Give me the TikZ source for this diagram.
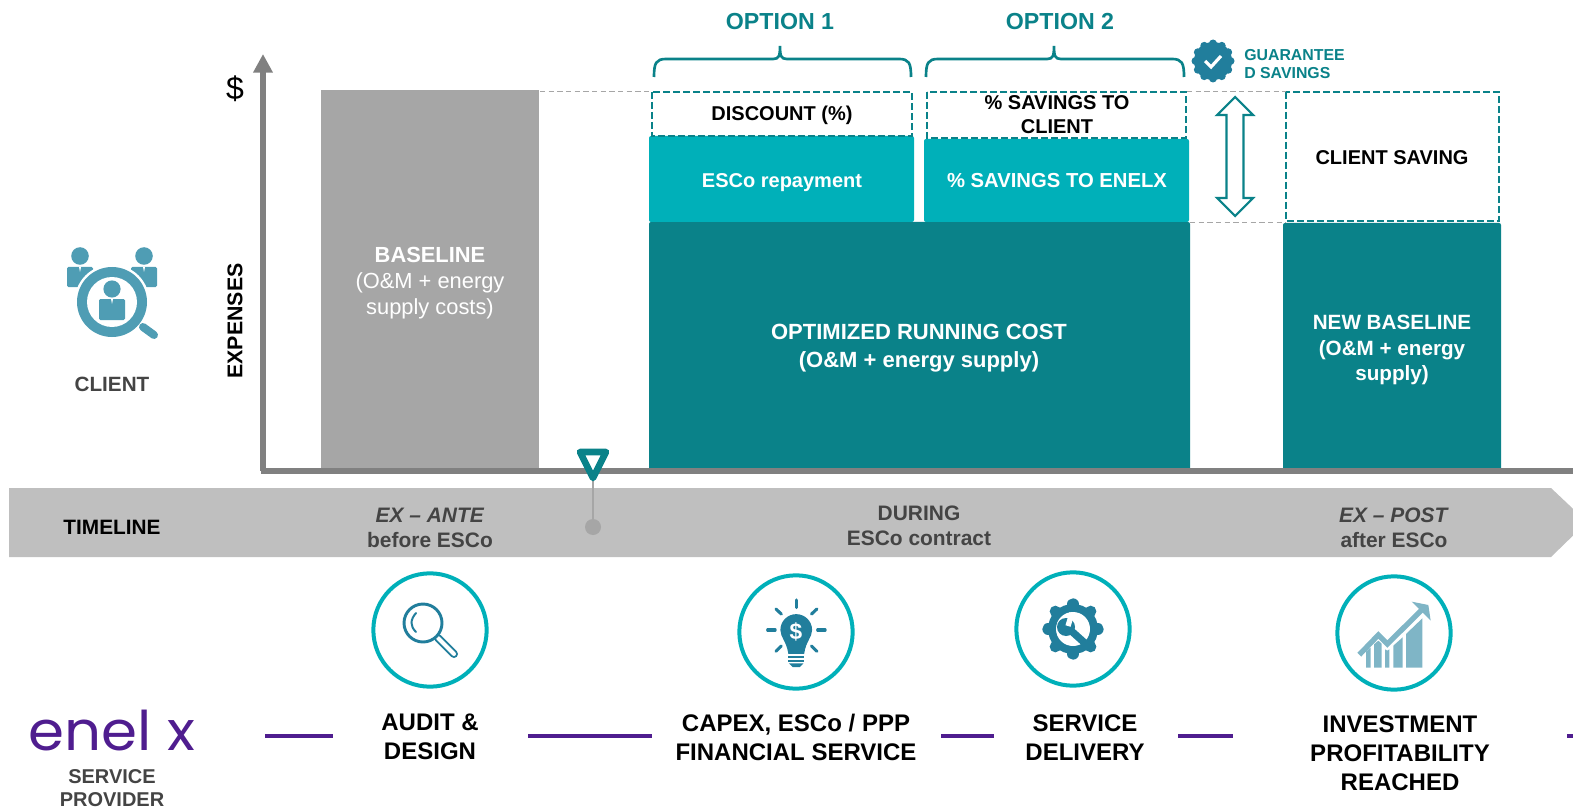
\documentclass[tikz,border=0pt]{standalone}
\usepackage{fontspec}
\setmainfont{Liberation Sans}
\newfontfamily\logofont{Poppins}
\usetikzlibrary{arrows.meta}

\definecolor{tealdark}{HTML}{0A8289}
\definecolor{teallight}{HTML}{00B0B9}
\definecolor{iconblue}{HTML}{217E9C}
\definecolor{iconpale}{HTML}{7FB5C6}
\definecolor{iconclient}{HTML}{4F9DB4}
\definecolor{axisgrey}{HTML}{808080}
\definecolor{barbgrey}{HTML}{A6A6A6}
\definecolor{bandgrey}{HTML}{BFBFBF}
\definecolor{textgrey}{HTML}{444444}
\definecolor{enelpurple}{HTML}{4F1D8F}

\tikzset{
  lbl/.style={align=center,inner sep=0pt,font=\fontsize{15.5}{20}\selectfont\bfseries},
  biglbl/.style={align=center,inner sep=0pt,font=\fontsize{18}{21.8}\selectfont\bfseries},
  bandlbl/.style={lbl,text=textgrey,font=\fontsize{15.7}{18.8}\selectfont\bfseries},
  dashbox/.style={draw=tealdark,line width=2pt,dash pattern=on 5pt off 2.5pt},
  guide/.style={draw=barbgrey,line width=0.7pt,dash pattern=on 4pt off 2.5pt},
  ring/.style={circle,draw=teallight,line width=3pt,minimum size=85pt,inner sep=0pt},
  provline/.style={draw=enelpurple,line width=3.5pt},
  optbrace/.style={draw=tealdark,line width=2pt},
}

\begin{document}
\begin{tikzpicture}[x=0.75pt,y=-0.75pt]
\useasboundingbox (0,0) rectangle (1573,809);

% bars
\fill[barbgrey] (321,90) rectangle (539,470);
\fill[tealdark,rounded corners=1.5pt] (649,222) rectangle (1190,470);
\fill[teallight,rounded corners=1.5pt] (649,136) rectangle (914,222);
\fill[teallight,rounded corners=1.5pt] (924,139) rectangle (1189,222);
\fill[tealdark,rounded corners=1.5pt] (1283,223) rectangle (1501,470);

\coordinate (g1) at (540,91);
\coordinate (g2) at (651,91);
\coordinate (g3) at (1187,91);
\coordinate (g4) at (1286,91);
\coordinate (g5) at (1190,222);
\coordinate (g6) at (1286,222);
\draw[guide] (g1) -- (g2);
\draw[guide] (g3) -- (g4);
\draw[guide] (g5) -- (g6);

\draw[dashbox] (652,92) rectangle (912,136);
\draw[dashbox] (927,92) rectangle (1186,138);
\draw[dashbox] (1286,92) rectangle (1499,221);

% axes
\coordinate (o) at (263,471);
\coordinate (ytop) at (263,54);
\coordinate (xend) at (1573,471);
\draw[axisgrey,line width=4pt,-{Triangle[length=14pt,width=14pt]}] (o) -- (ytop);
\draw[axisgrey,line width=4pt] (261,471) -- (xend);

\node[inner sep=0pt,font=\fontsize{24}{24}\selectfont,text=black] (dollar) at (235,89) {\$};
\node[lbl,rotate=90,font=\fontsize{16}{20}\selectfont\bfseries] (expenses) at (235,321) {EXPENSES};

% timeline
\fill[bandgrey] (9,488) -- (1551,488) -- (1587,522) -- (1551,557) -- (9,557) -- cycle;
\coordinate (tri) at (593,470);
\node[circle,fill=barbgrey,inner sep=0pt,minimum size=12pt] (dot) at (593,527) {};
\draw[barbgrey,line width=1.5pt] (tri) -- (dot);
\draw[tealdark,line width=5pt,line join=round,fill=white] (580,452) -- (606,452) -- (593,478) -- cycle;

\node[lbl,font=\fontsize{15.6}{20}\selectfont\bfseries] (timeline) at (112,527) {TIMELINE};
\node[bandlbl] (exante) at (430,528) {\textit{EX -- ANTE}\\before ESCo};
\node[bandlbl] (during) at (919,526) {DURING\\ESCo contract};
\node[bandlbl] (expost) at (1394,528) {\textit{EX -- POST}\\after ESCo};

% bar labels
\node[lbl,text=white,font=\fontsize{16.4}{20}\selectfont\bfseries] (baseline) at (430,255) {BASELINE};
\node[lbl,text=white,font=\fontsize{16.4}{20}\selectfont] (baselinesub) at (430,296) {(O\&M + energy\\supply costs)};
\node[lbl,font=\fontsize{15}{18}\selectfont\bfseries] (discount) at (782,115) {DISCOUNT (\%)};
\node[lbl,font=\fontsize{15}{18}\selectfont\bfseries] (savclient) at (1057,115) {\% SAVINGS TO\\CLIENT};
\node[lbl,text=white,font=\fontsize{15}{18}\selectfont\bfseries] (repay) at (782,183) {ESCo repayment};
\node[lbl,text=white,font=\fontsize{15.2}{18}\selectfont\bfseries] (savenelx) at (1057,181) {\% SAVINGS TO ENELX};
\node[lbl,text=white,font=\fontsize{16.5}{21}\selectfont\bfseries] (optimized) at (919,348) {OPTIMIZED RUNNING COST\\(O\&M + energy supply)};
\node[lbl,font=\fontsize{15}{18}\selectfont\bfseries] (clientsav) at (1392,158) {CLIENT SAVING};
\node[lbl,text=white,font=\fontsize{15.5}{19}\selectfont\bfseries] (newbase) at (1392,350) {NEW BASELINE\\(O\&M + energy\\supply)};

% options
\node[lbl,text=tealdark,font=\fontsize{17.4}{20}\selectfont\bfseries] (opt1) at (780,22) {OPTION 1};
\node[lbl,text=tealdark,font=\fontsize{17.4}{20}\selectfont\bfseries] (opt2) at (1060,22) {OPTION 2};
\draw[optbrace] (654,77) .. controls (654,63) and (656,59) .. (666,59) -- (773,59) .. controls (779,59) and (780,56) .. (780,46) .. controls (780,56) and (781,59) .. (787,59) -- (899,59) .. controls (909,59) and (911,63) .. (911,77);
\draw[optbrace] (926,77) .. controls (926,63) and (928,59) .. (938,59) -- (1047,59) .. controls (1053,59) and (1054,56) .. (1054,46) .. controls (1054,56) and (1055,59) .. (1061,59) -- (1172,59) .. controls (1182,59) and (1184,63) .. (1184,77);

% saving arrow
\draw[tealdark,line width=1.6pt,fill=white] (1235,97) -- (1253,115) -- (1243.5,115) -- (1243.5,198) -- (1253,198) -- (1235,216) -- (1217,198) -- (1226.5,198) -- (1226.5,115) -- (1217,115) -- cycle;

% guarantee badge
\fill[iconblue] (1213,61) circle (19);
\foreach \a in {0,30,...,330}
  \fill[iconblue] (1213,61) ++(\a:17.5) circle (4);
\draw[white,line width=2.4pt] (1205,61) -- (1211,67) -- (1221,56);
\node[lbl,text=tealdark,align=left,font=\fontsize{11.9}{14}\selectfont\bfseries,anchor=west] (guar) at (1244,64) {GUARANTEE\\D SAVINGS};

% client icon
\foreach \x in {80,144} {
  \fill[iconclient] (\x,256) circle (8.8);
  \fill[iconclient,rounded corners=1pt] (\x-13,267) rectangle (\x+13,287);
  \fill[white] (\x-1,267) -- (\x+1,267) -- (\x,272) -- cycle;
}
\fill[white] (112,302) circle (37.5);
\fill[iconclient] (112,302) circle (35);
\fill[white] (112,302) circle (25);
\draw[iconclient,line width=6pt,line cap=round] (143,327) -- (154,335);
\fill[iconclient] (112,289) circle (8.6);
\fill[iconclient,rounded corners=1pt] (99,299) rectangle (125,320);
\fill[white] (111,299) -- (113,299) -- (112,304) -- cycle;
\node[lbl,text=textgrey] (client) at (112,384) {CLIENT};

% rings
\node[ring] (ring1) at (430,630) {};
\node[ring] (ring2) at (796,632) {};
\node[ring] (ring3) at (1073,629) {};
\node[ring] (ring4) at (1394,633) {};

% lens icon
\draw[iconblue,line width=6pt,line cap=round] (438,638) -- (454,654);
\draw[white,line width=3pt,line cap=round] (438,638) -- (454,654);
\draw[iconblue,line width=2.2pt,fill=white] (423,623) circle (19);
\draw[iconblue,line width=1.5pt,line cap=round] (416,613) .. controls (410,620) and (410,626) .. (416,632);

% bulb icon
\begin{scope}[shift={(339,560)},scale=1/2.9]
\fill[iconblue] (1326,157) .. controls (1300,157) and (1280,178) .. (1280,203) .. controls (1280,225) and (1298,235) .. (1303,272) -- (1349,272) .. controls (1354,235) and (1372,225) .. (1372,203) .. controls (1372,178) and (1352,157) .. (1326,157) -- cycle;
\fill[iconblue] (1303,277) rectangle (1349,284);
\fill[iconblue] (1303,289) rectangle (1349,296);
\fill[iconblue] (1305,300) -- (1347,300) -- (1336,311) -- (1316,311) -- cycle;
\draw[iconblue,line width=2.3pt,line cap=round] (1326,116) -- (1326,138);
\draw[iconblue,line width=2.3pt,line cap=round] (1267,142) -- (1283,157);
\draw[iconblue,line width=2.3pt,line cap=round] (1386,142) -- (1370,157);
\draw[iconblue,line width=2.3pt,line cap=round] (1243,203) -- (1265,203);
\draw[iconblue,line width=2.3pt,line cap=round] (1388,203) -- (1410,203);
\draw[iconblue,line width=2.3pt,line cap=round] (1267,265) -- (1283,249);
\draw[iconblue,line width=2.3pt,line cap=round] (1386,265) -- (1370,249);
\end{scope}
\node[inner sep=0pt,text=white,font=\fontsize{17}{17}\selectfont\bfseries] (bulbdollar) at (796,632) {\$};

% gear icon
\foreach \a in {0,45,...,315}
  \draw[iconblue,line width=8.5pt,line cap=round] (1073,629) ++(\a:18) -- ++(\a:7);
\fill[iconblue] (1073,629) circle (25);
\fill[white] (1073,629) circle (17);
\fill[iconblue] (1066,627) circle (9);
\draw[iconblue,line width=5.5pt] (1068,628) -- (1087,645);
\draw[white,line width=4pt] (1068,626) -- (1072,613);

% chart icon
\begin{scope}[shift={(990,560)},scale=1/3]
\fill[iconpale] (1128,275) -- (1142,262) -- (1142,323) -- (1128,323) -- cycle;
\fill[iconpale] (1152,253) -- (1165,242) -- (1175,251) -- (1175,323) -- (1152,323) -- cycle;
\fill[iconpale] (1185,268) -- (1192,272) -- (1198,268) -- (1198,323) -- (1185,323) -- cycle;
\fill[iconpale] (1210,257) -- (1238,232) -- (1238,323) -- (1210,323) -- cycle;
\fill[iconpale] (1248,222) -- (1297,175) -- (1297,323) -- (1248,323) -- cycle;
\draw[iconpale,line width=4pt] (1108,284) -- (1165,225) -- (1192,252) -- (1295,150);
\fill[iconpale] (1265,125) -- (1315,135) -- (1322,182) -- cycle;
\end{scope}

% provider row
\node[inner sep=0pt,text=enelpurple,xscale=1.06,font=\fontsize{41}{41}\selectfont\logofont] (logo) at (112,731) {enel x};
\node[lbl,text=textgrey,font=\fontsize{15}{17.3}\selectfont\bfseries] (provider) at (112,788) {SERVICE\\PROVIDER};
\node[biglbl] (audit) at (430,737) {AUDIT \&\\DESIGN};
\node[biglbl] (capex) at (796,737) {CAPEX, ESCo / PPP\\FINANCIAL SERVICE};
\node[biglbl] (delivery) at (1085,738) {SERVICE\\DELIVERY};
\node[biglbl] (invest) at (1400,753) {INVESTMENT\\PROFITABILITY\\REACHED};

\coordinate (p1) at (265,736);
\coordinate (p2) at (333,736);
\coordinate (p3) at (528,736);
\coordinate (p4) at (652,736);
\coordinate (p5) at (941,736);
\coordinate (p6) at (994,736);
\coordinate (p7) at (1178,736);
\coordinate (p8) at (1233,736);
\coordinate (p9) at (1567,736);
\coordinate (p10) at (1573,736);
\draw[provline] (p1) -- (p2);
\draw[provline] (p3) -- (p4);
\draw[provline] (p5) -- (p6);
\draw[provline] (p7) -- (p8);
\draw[provline] (p9) -- (p10);
\end{tikzpicture}
\end{document}
